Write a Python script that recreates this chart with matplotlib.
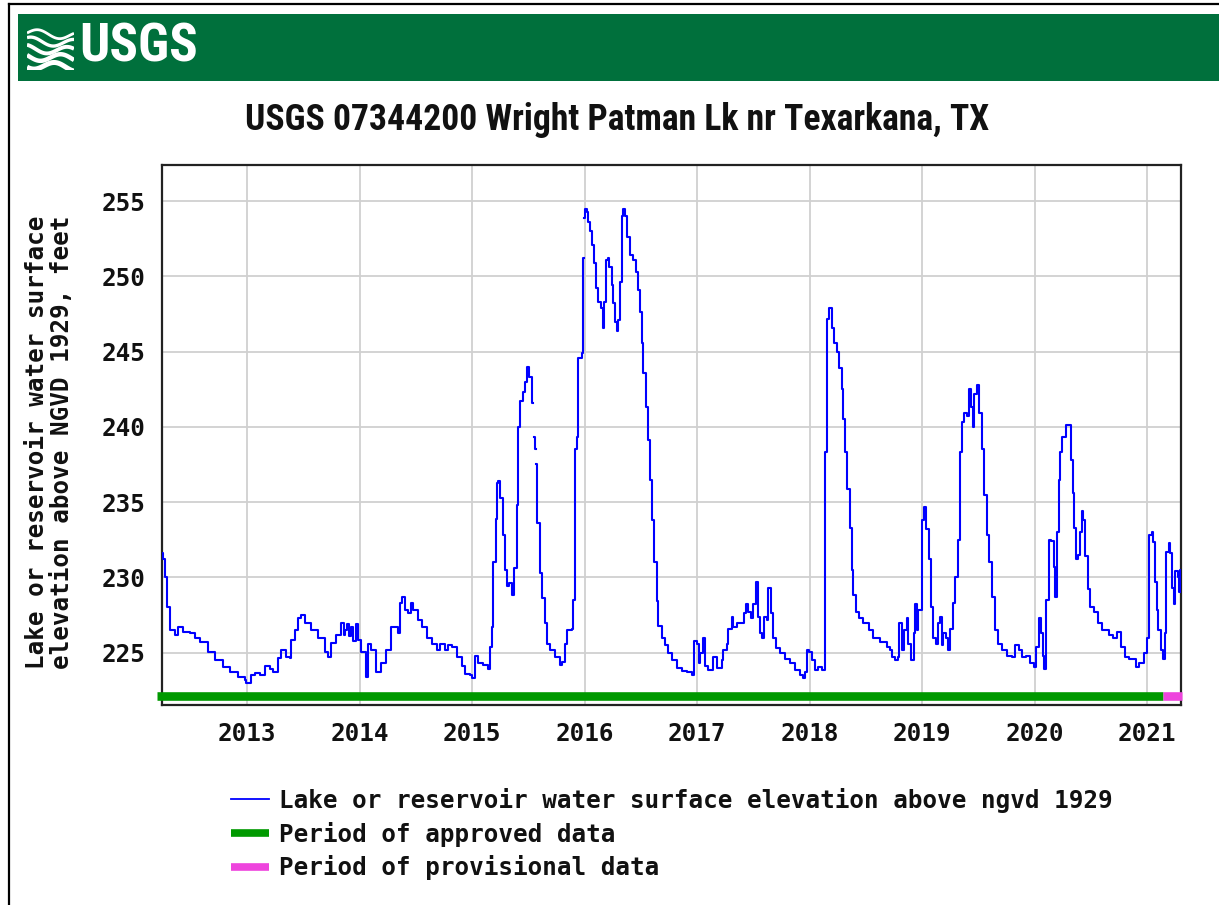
import numpy as np
import matplotlib
matplotlib.use("Agg")
import matplotlib.pyplot as plt
from matplotlib import font_manager as fm
from matplotlib.lines import Line2D
from matplotlib.patches import Rectangle
import matplotlib.transforms as mtransforms

# ---------------- data (decimal years, feet) ----------------
years = [
    2012.245, 2012.253, 2012.268, 2012.289, 2012.316, 2012.360, 2012.387, 2012.431,
    2012.493, 2012.538, 2012.582, 2012.653, 2012.716, 2012.787, 2012.849, 2012.920,
    2012.982, 2012.991, 2013.036, 2013.071, 2013.116, 2013.160, 2013.204, 2013.231,
    2013.276, 2013.302, 2013.347, 2013.382, 2013.391, 2013.427, 2013.453, 2013.480,
    2013.516, 2013.569, 2013.631, 2013.693, 2013.720, 2013.747, 2013.791, 2013.836,
    2013.860, 2013.871, 2013.890, 2013.910, 2013.924, 2013.940, 2013.969, 2013.987,
    2014.013, 2014.058, 2014.075, 2014.093, 2014.102, 2014.147, 2014.191, 2014.236,
    2014.280, 2014.316, 2014.342, 2014.360, 2014.378, 2014.404, 2014.431, 2014.458,
    2014.476, 2014.520, 2014.556, 2014.600, 2014.644, 2014.689, 2014.716, 2014.760,
    2014.787, 2014.822, 2014.867, 2014.911, 2014.938, 2014.982, 2015.000, 2015.027,
    2015.053, 2015.098, 2015.142, 2015.160, 2015.178, 2015.187, 2015.213, 2015.222,
    2015.231, 2015.249, 2015.276, 2015.293, 2015.311, 2015.329, 2015.356, 2015.373,
    2015.400, 2015.409, 2015.427, 2015.453, 2015.471, 2015.489, 2015.507, 2015.533,
    2015.542, 2015.551, 2015.560, 2015.565, 2015.569, 2015.578, 2015.604, 2015.622,
    2015.649, 2015.667, 2015.693, 2015.738, 2015.782, 2015.800, 2015.827, 2015.844,
    2015.889, 2015.898, 2015.916, 2015.933, 2015.945, 2015.975, 2015.985, 2015.990,
    2015.995, 2016.004, 2016.020, 2016.034, 2016.049, 2016.069, 2016.084, 2016.102,
    2016.123, 2016.144, 2016.167, 2016.176, 2016.191, 2016.206, 2016.220, 2016.242,
    2016.256, 2016.271, 2016.286, 2016.300, 2016.316, 2016.331, 2016.345, 2016.360,
    2016.380, 2016.404, 2016.434, 2016.458, 2016.478, 2016.493, 2016.508, 2016.523,
    2016.547, 2016.567, 2016.582, 2016.597, 2016.618, 2016.642, 2016.656, 2016.686,
    2016.716, 2016.745, 2016.775, 2016.820, 2016.864, 2016.909, 2016.953, 2016.967,
    2016.975, 2016.997, 2017.012, 2017.027, 2017.051, 2017.071, 2017.100, 2017.145,
    2017.175, 2017.220, 2017.234, 2017.264, 2017.278, 2017.308, 2017.323, 2017.353,
    2017.382, 2017.412, 2017.436, 2017.456, 2017.477, 2017.500, 2017.524, 2017.540,
    2017.560, 2017.575, 2017.596, 2017.620, 2017.634, 2017.655, 2017.678, 2017.702,
    2017.738, 2017.782, 2017.827, 2017.871, 2017.916, 2017.945, 2017.960, 2017.975,
    2017.998, 2018.020, 2018.049, 2018.078, 2018.108, 2018.132, 2018.138, 2018.153,
    2018.176, 2018.197, 2018.218, 2018.242, 2018.262, 2018.286, 2018.300, 2018.316,
    2018.336, 2018.354, 2018.375, 2018.389, 2018.411, 2018.434, 2018.478, 2018.523,
    2018.567, 2018.627, 2018.686, 2018.716, 2018.731, 2018.760, 2018.781, 2018.798,
    2018.820, 2018.840, 2018.864, 2018.878, 2018.900, 2018.923, 2018.938, 2018.953,
    2018.967, 2018.997, 2019.012, 2019.036, 2019.056, 2019.077, 2019.100, 2019.124,
    2019.136, 2019.160, 2019.175, 2019.189, 2019.213, 2019.228, 2019.249, 2019.273,
    2019.293, 2019.314, 2019.332, 2019.353, 2019.373, 2019.397, 2019.412, 2019.433,
    2019.451, 2019.462, 2019.486, 2019.509, 2019.531, 2019.551, 2019.575, 2019.598,
    2019.620, 2019.649, 2019.678, 2019.708, 2019.753, 2019.797, 2019.827, 2019.856,
    2019.886, 2019.924, 2019.960, 2019.996, 2020.013, 2020.034, 2020.055, 2020.073,
    2020.084, 2020.102, 2020.123, 2020.144, 2020.168, 2020.183, 2020.200, 2020.213,
    2020.226, 2020.245, 2020.282, 2020.320, 2020.338, 2020.350, 2020.364, 2020.383,
    2020.400, 2020.420, 2020.430, 2020.450, 2020.470, 2020.490, 2020.530, 2020.566,
    2020.600, 2020.660, 2020.700, 2020.730, 2020.770, 2020.800, 2020.840, 2020.900,
    2020.930, 2020.970, 2021.000, 2021.020, 2021.040, 2021.050, 2021.070, 2021.085,
    2021.100, 2021.120, 2021.140, 2021.160, 2021.170, 2021.190, 2021.200, 2021.220,
    2021.235, 2021.250, 2021.270, 2021.280, 2021.290, 2021.297,
]
elev = [
    231.6, 231.2, 230.0, 228.0, 226.5, 226.2, 226.7, 226.4,
    226.3, 226.0, 225.7, 225.05, 224.5, 224.05, 223.7, 223.4,
    223.2, 223.0, 223.5, 223.65, 223.5, 224.1, 223.9, 223.7,
    224.65, 225.2, 224.7, 224.65, 225.85, 226.5, 227.3, 227.5,
    227.0, 226.5, 226.0, 225.05, 224.7, 225.65, 226.2, 227.0,
    226.2, 226.5, 226.9, 226.1, 226.7, 225.8, 226.9, 225.85,
    225.05, 223.4, 225.6, 225.6, 225.2, 223.7, 224.3, 225.2,
    226.7, 226.7, 226.3, 228.3, 228.7, 227.8, 227.6, 228.3,
    227.8, 227.2, 226.7, 226.0, 225.6, 225.2, 225.6, 225.2,
    225.5, 225.4, 224.7, 224.1, 223.6, 223.5, 223.3, 224.8,
    224.3, 224.2, 223.9, 225.4, 226.7, 231.0, 233.9, 236.3,
    236.4, 235.3, 232.8, 230.5, 229.4, 229.6, 228.8, 230.6,
    234.8, 240.0, 241.7, 242.3, 243.0, 244.0, 243.3, 241.6,
    np.nan, 239.3, 238.5, np.nan, 237.5, 233.6, 230.3, 228.6,
    227.0, 225.6, 225.2, 224.7, 224.2, 224.4, 225.6, 226.5,
    226.6, 228.5, 238.5, 239.3, 244.6, 244.9, 251.2, np.nan,
    253.9, 254.5, 254.3, 253.6, 253.0, 252.1, 250.9, 249.2,
    248.3, 247.9, 246.6, 248.3, 251.1, 251.2, 250.6, 249.4,
    248.2, 247.0, 246.4, 247.1, 249.6, 254.0, 254.5, 254.0,
    252.6, 251.4, 251.1, 250.3, 249.1, 247.6, 245.6, 243.6,
    241.3, 239.1, 236.5, 233.8, 231.0, 228.4, 226.8, 226.0,
    225.5, 225.0, 224.5, 224.0, 223.8, 223.7, 223.5, 223.5,
    225.8, 225.6, 224.3, 225.0, 226.0, 224.1, 223.85, 224.7,
    224.0, 224.5, 225.2, 225.6, 226.6, 227.4, 226.7, 227.0,
    227.0, 227.6, 228.2, 227.7, 227.3, 228.2, 229.7, 227.4,
    226.3, 226.0, 227.4, 227.2, 229.3, 227.6, 226.0, 225.3,
    225.0, 224.6, 224.3, 223.85, 223.5, 223.3, 223.7, 225.2,
    225.05, 224.5, 223.85, 224.05, 223.85, 225.05, 238.3, 247.2,
    247.9, 246.6, 245.6, 245.0, 243.9, 242.5, 240.5, 238.3,
    235.9, 233.3, 230.5, 228.8, 227.7, 227.3, 227.0, 226.5,
    226.0, 225.7, 225.4, 225.2, 224.7, 224.5, 224.7, 227.0,
    225.2, 226.5, 227.3, 225.6, 224.5, 226.3, 228.2, 226.5,
    227.8, 233.8, 234.7, 233.2, 231.2, 228.0, 226.0, 225.6,
    227.0, 227.4, 225.5, 226.3, 226.0, 225.2, 226.6, 228.3,
    230.0, 232.5, 238.3, 240.3, 240.9, 240.7, 242.5, 241.3,
    240.0, 242.2, 242.8, 240.9, 238.5, 235.5, 232.8, 231.0,
    228.7, 226.5, 225.6, 225.2, 224.8, 224.7, 225.5, 225.2,
    224.7, 224.8, 224.3, 224.05, 225.4, 227.3, 226.3, 224.8,
    223.9, 228.5, 232.5, 232.4, 230.7, 228.7, 233.0, 236.5,
    238.3, 239.3, 240.1, 237.8, 235.6, 233.3, 231.2, 231.5,
    233.0, 234.4, 233.8, 231.4, 229.2, 228.0, 227.7, 227.0,
    226.5, 226.2, 226.0, 226.4, 225.4, 224.7, 224.6, 224.05,
    224.3, 225.0, 226.0, 232.8, 233.0, 232.35, 229.7, 227.8,
    226.5, 225.2, 224.6, 226.3, 231.7, 232.3, 231.6, 229.3,
    228.2, 230.4, 230.0, 229.0, 230.5, 229.0,
]

approved_period = [2012.200, 2021.142]
provisional_period = [2021.142, 2021.310]

x_ticks = [2013, 2014, 2015, 2016, 2017, 2018, 2019, 2020, 2021]
y_ticks = [225, 230, 235, 240, 245, 250, 255]
x_range = [2012.244, 2021.300]
y_range = [221.52, 257.40]

title_text = "USGS 07344200 Wright Patman Lk nr Texarkana, TX"
ylabel_lines = ["Lake or reservoir water surface", "elevation above NGVD 1929, feet"]
legend_labels = ["Lake or reservoir water surface elevation above ngvd 1929",
                 "Period of approved data",
                 "Period of provisional data"]

# ---------------- styling ----------------
BLUE = "#0000FF"
GREEN_BAR = "#009900"
PINK = "#EE44DD"
USGS_GREEN = "#00703C"
GRID = "#D0D0D0"

W, H = 1219, 905
fig = plt.figure(figsize=(W / 100, H / 100), dpi=100)
fig.patch.set_facecolor("white")


def fx(px):
    return px / W


def fy(py):
    return 1 - py / H


names = {f.name for f in fm.fontManager.ttflist}
title_family = "Liberation Sans"
for cand in ["Liberation Sans Narrow", "Arial Narrow", "Roboto Condensed",
             "Open Sans Condensed", "Nimbus Sans Narrow"]:
    if cand in names:
        title_family = cand
        break

MONO = dict(family="DejaVu Sans Mono", weight="bold", size=17.5)

# header band and page border
fig.patches.append(Rectangle((fx(18), fy(81)), 1 - fx(18), (81 - 14) / H,
                             transform=fig.transFigure, facecolor=USGS_GREEN,
                             edgecolor="none", zorder=0))
fig.add_artist(Line2D([fx(9), fx(9)], [0, fy(4)], color="black", lw=1.6))
fig.add_artist(Line2D([fx(9), 1], [fy(4), fy(4)], color="black", lw=1.6))

# logo waves
lax = fig.add_axes([fx(27), fy(70), (74 - 27) / W, (70 - 27) / H])
lax.set_zorder(5)
lax.set_xlim(0, 1)
lax.set_ylim(0, 1)
lax.axis("off")
t = np.linspace(0, 1, 60)
for i, (base, lw) in enumerate([(0.86, 2.0), (0.68, 2.4), (0.50, 2.8), (0.32, 3.2), (0.12, 3.6)]):
    lax.plot(t, base + 0.09 * np.sin(2 * np.pi * (t * 1.1 + 0.15 * i)) - 0.06 * t,
             color="white", lw=lw, solid_capstyle="butt")

usgs_txt = fig.text(fx(79), fy(47), "USGS", color="white", fontsize=44,
                    fontweight="bold", family=title_family, ha="left", va="center",
                    zorder=6)

title = fig.text(fx(617), fy(120), title_text, ha="center", va="center",
                 fontsize=25, fontweight="bold", family=title_family, color="#111111")

# ---------------- axes ----------------
ax = fig.add_axes([fx(162), fy(705), fx(1181) - fx(162), (705 - 165) / H])
ax.plot(years, elev, color=BLUE, lw=1.5, drawstyle="steps-post", zorder=3)

trans = mtransforms.blended_transform_factory(ax.transData, ax.transAxes)
bar_y = 0.0167
ax.plot(approved_period, [bar_y, bar_y], transform=trans, color=GREEN_BAR, lw=6.2,
        solid_capstyle="butt", clip_on=False, zorder=4)
ax.plot(provisional_period, [bar_y, bar_y], transform=trans, color=PINK, lw=6.2,
        solid_capstyle="butt", clip_on=False, zorder=4)

ax.set_xlim(*x_range)
ax.set_ylim(*y_range)
ax.set_xticks(x_ticks)
ax.set_yticks(y_ticks)
ax.set_xticklabels([str(v) for v in x_ticks], **MONO)
ax.set_yticklabels([str(v) for v in y_ticks], **MONO)
ax.tick_params(axis="both", length=0, colors="#111111")
ax.tick_params(axis="x", pad=12.5)
ax.tick_params(axis="y", pad=12)
ax.grid(True, color=GRID, lw=1.3, zorder=0)
ax.set_axisbelow(True)
for s in ax.spines.values():
    s.set_color("#222222")
    s.set_linewidth(1.6)

for i, line in enumerate(ylabel_lines):
    fig.text(fx(37 + 25 * i), fy(442), line, rotation=90, ha="center", va="center",
             color="#111111", **MONO)

handles = [Line2D([], [], color=BLUE, lw=1.3),
           Line2D([], [], color=GREEN_BAR, lw=5.5, solid_capstyle="butt"),
           Line2D([], [], color=PINK, lw=5.5, solid_capstyle="butt")]
leg = fig.legend(handles, legend_labels, loc="upper left",
                 bbox_to_anchor=(fx(231), fy(788)), frameon=False,
                 prop=dict(family="DejaVu Sans Mono", weight="bold", size=17.5),
                 handlelength=1.55, handletextpad=0.42, labelspacing=0.35,
                 borderpad=0, borderaxespad=0)
for txt in leg.get_texts():
    txt.set_color("#111111")

# fit header texts to their widths in the reference
fig.canvas.draw()
r = fig.canvas.get_renderer()
for obj, target in [(title, 745), (usgs_txt, 119)]:
    w = obj.get_window_extent(r).width
    obj.set_fontsize(obj.get_fontsize() * target / w)

fig.savefig("out.png", dpi=100)
